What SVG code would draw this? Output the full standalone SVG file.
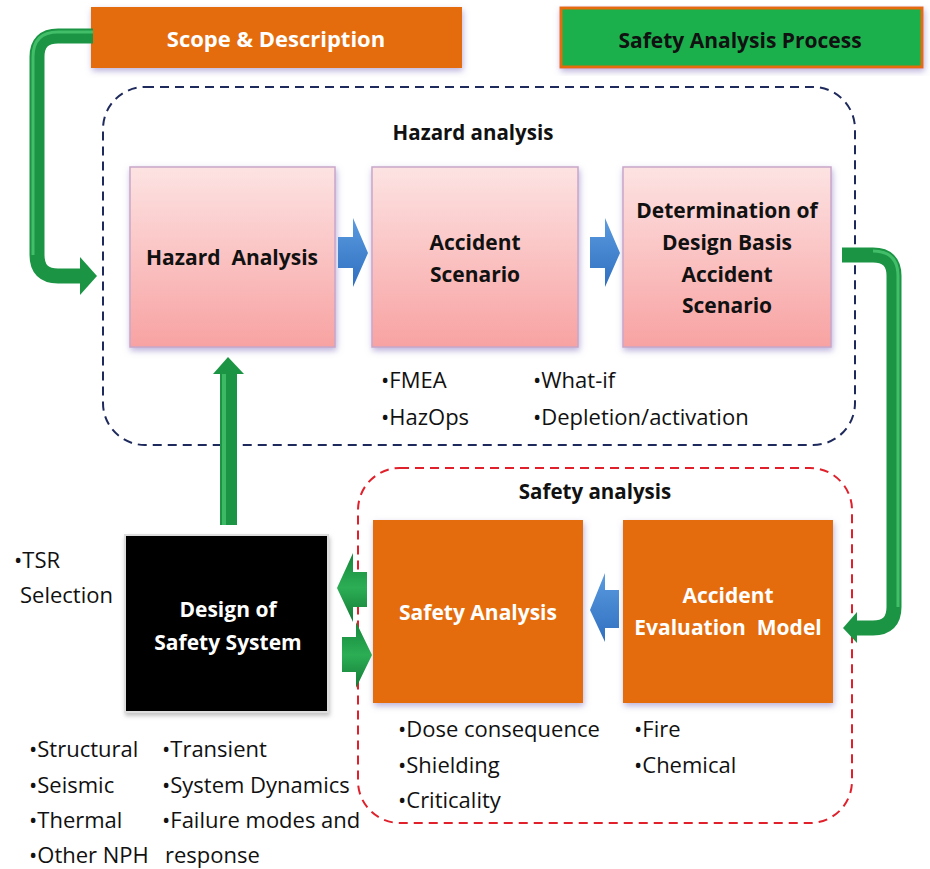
<svg xmlns="http://www.w3.org/2000/svg" width="930" height="869" viewBox="0 0 930 869">
<defs>
<linearGradient id="pink" x1="0" y1="0" x2="0" y2="1">
<stop offset="0" stop-color="#fde3e3"/>
<stop offset="1" stop-color="#f8a2a2"/>
</linearGradient>
<linearGradient id="blueArr" x1="0" y1="0" x2="0" y2="1">
<stop offset="0" stop-color="#5b9be0"/>
<stop offset="1" stop-color="#2f6fbf"/>
</linearGradient>
<linearGradient id="greenArr" x1="0" y1="0" x2="0" y2="1">
<stop offset="0" stop-color="#15863a"/>
<stop offset="0.5" stop-color="#2cae55"/>
<stop offset="1" stop-color="#137a35"/>
</linearGradient>
<filter id="glow" x="-10%" y="-10%" width="120%" height="125%">
<feGaussianBlur in="SourceAlpha" stdDeviation="3"/>
<feOffset dx="1" dy="3" result="b"/>
<feFlood flood-color="#8f7fc4" flood-opacity="0.6"/>
<feComposite in2="b" operator="in"/>
<feMerge><feMergeNode/><feMergeNode in="SourceGraphic"/></feMerge>
</filter>
<filter id="shadow" x="-10%" y="-10%" width="120%" height="125%">
<feGaussianBlur in="SourceAlpha" stdDeviation="2"/>
<feOffset dx="1" dy="3" result="b"/>
<feFlood flood-color="#999999" flood-opacity="0.6"/>
<feComposite in2="b" operator="in"/>
<feMerge><feMergeNode/><feMergeNode in="SourceGraphic"/></feMerge>
</filter>
</defs>
<style>
.t{font-family:"Open Sans","Liberation Sans",sans-serif;font-size:22px;fill:#111111}
.b{font-family:"Open Sans","Liberation Sans",sans-serif;font-size:21px;font-weight:bold;fill:#111111;text-anchor:middle}
.w{fill:#ffffff}
.pink{fill:url(#pink);stroke:#c9a6c9;stroke-width:1.5}
.orange{fill:#e46c0a}
.pipe{fill:none;stroke:#1b9544;stroke-width:15;stroke-linecap:butt}
.hl{fill:none;stroke:#4cc772;stroke-width:3;opacity:0.8}
.garr{fill:#1b9544}
.barr{fill:url(#blueArr)}
</style>
<rect width="930" height="869" fill="#ffffff"/>

<g id="groups">
<rect x="103" y="87" width="752" height="358" rx="42" fill="none" stroke="#1f2a5c" stroke-width="2" stroke-dasharray="9,6"/>
<text class="b" x="473" y="140" style="font-size:20.5px">Hazard analysis</text>
<rect x="358" y="468" width="494" height="355" rx="42" fill="none" stroke="#e0202a" stroke-width="2" stroke-dasharray="9,6"/>
<text class="b" x="595" y="499" style="font-size:20.5px">Safety analysis</text>
</g>

<g id="scope">
<rect x="91" y="7" width="371" height="61" class="orange" filter="url(#glow)"/>
<text class="b w" x="276" y="47" style="font-size:22px">Scope &amp; Description</text>
</g>

<g id="process">
<rect x="561" y="8" width="361" height="59" fill="#1db04e" stroke="#e46c0a" stroke-width="3" filter="url(#glow)"/>
<text class="b" x="740" y="48" style="font-size:21px">Safety Analysis Process</text>
</g>

<g id="hazardAnalysis">
<rect x="130" y="167" width="205" height="180" class="pink" filter="url(#glow)"/>
<text class="b" x="232" y="265" xml:space="preserve">Hazard  Analysis</text>
</g>

<g id="accidentScenario">
<rect x="372" y="167" width="206" height="180" class="pink" filter="url(#glow)"/>
<text class="b" x="475" y="250">Accident</text>
<text class="b" x="475" y="282">Scenario</text>
<text class="t" x="381" y="388">•FMEA</text>
<text class="t" x="381" y="425">•HazOps</text>
</g>

<g id="determination">
<rect x="623" y="167" width="208" height="180" class="pink" filter="url(#glow)"/>
<text class="b" x="727" y="218">Determination of</text>
<text class="b" x="727" y="250">Design Basis</text>
<text class="b" x="727" y="282">Accident</text>
<text class="b" x="727" y="313">Scenario</text>
<text class="t" x="533" y="388">•What-if</text>
<text class="t" x="533" y="425">•Depletion/activation</text>
</g>

<g id="safetyAnalysis">
<rect x="373" y="520" width="210" height="183" class="orange" filter="url(#glow)"/>
<text class="b w" x="478" y="620">Safety Analysis</text>
<text class="t" x="398" y="737">•Dose consequence</text>
<text class="t" x="398" y="773">•Shielding</text>
<text class="t" x="398" y="808">•Criticality</text>
</g>

<g id="accidentEvaluation">
<rect x="623" y="520" width="210" height="183" class="orange" filter="url(#glow)"/>
<text class="b w" x="728" y="603">Accident</text>
<text class="b w" x="728" y="635" xml:space="preserve">Evaluation  Model</text>
<text class="t" x="634" y="737">•Fire</text>
<text class="t" x="634" y="773">•Chemical</text>
</g>

<g id="designSafety">
<rect x="125" y="535" width="203" height="177" fill="#000000" stroke="#dddddd" stroke-width="2" filter="url(#shadow)"/>
<text class="b w" x="228" y="617">Design of</text>
<text class="b w" x="228" y="650">Safety System</text>
<text class="t" x="14" y="568">•TSR</text>
<text class="t" x="20" y="603">Selection</text>
<text class="t" x="29" y="757">•Structural</text>
<text class="t" x="29" y="793">•Seismic</text>
<text class="t" x="29" y="828">•Thermal</text>
<text class="t" x="29" y="863">•Other NPH</text>
<text class="t" x="162" y="757">•Transient</text>
<text class="t" x="162" y="793">•System Dynamics</text>
<text class="t" x="162" y="828">•Failure modes and</text>
<text class="t" x="165" y="863">response</text>
</g>

<g id="connectors">
<path class="pipe" d="M93,36 H58 Q37,36 37,57 V255 Q37,276 58,276 H82"/>
<path class="hl" d="M93,32 H58 Q33,32 33,57 V255"/>
<polygon class="garr" points="80,257 97,276 80,295"/>
<polygon class="barr" points="338,237 353,237 353,218 368,253 353,287 353,268 338,268"/>
<polygon class="barr" points="590,237 605,237 605,218 620,253 605,287 605,268 590,268"/>
<path class="pipe" d="M842,255 H873 Q894,255 894,276 V607 Q894,628 873,628 H855"/>
<path class="hl" d="M873,251 Q898,251 898,276 V607"/>
<polygon class="garr" points="857,612 843,628 857,643"/>
<polygon class="barr" points="619,590 605,590 605,573 590,610 605,642 605,628 619,628"/>
<polygon fill="url(#greenArr)" points="367,572 353,572 353,553 337,588 353,622 353,607 367,607"/>
<polygon fill="url(#greenArr)" points="342,637 356,637 356,622 372,655 356,688 356,672 342,672"/>
<rect x="220" y="372" width="17" height="153" fill="#1b9544"/>
<rect x="222" y="372" width="4" height="153" fill="#4cc772" opacity="0.7"/>
<polygon class="garr" points="213,374 228,357 244,374"/>
</g>
</svg>
